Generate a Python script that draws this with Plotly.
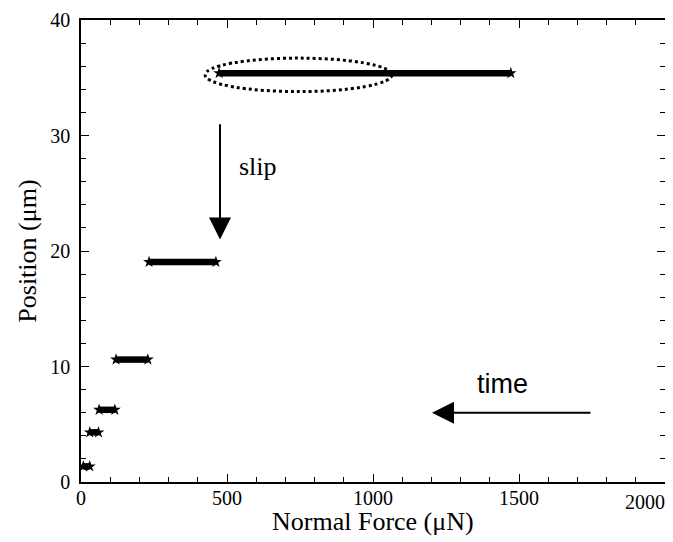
import plotly.graph_objects as go

# Plateaus: start force, end force (uN), position (um)
plateau_start = [8, 30, 62, 120, 233, 473]
plateau_end = [30, 60, 116, 229, 462, 1472]
plateau_pos = [1.35, 4.3, 6.25, 10.6, 19.05, 35.4]

x_tick_vals = [0, 500, 1000, 1500, 2000]
y_tick_vals = [0, 10, 20, 30, 40]

x_title = "Normal Force (\u03bcN)"
y_title = "Position (\u03bcm)"

SERIF = "Liberation Serif, Times New Roman, serif"
SANS = "Liberation Sans, Arial, sans-serif"

fig = go.Figure()
for s, e, p in zip(plateau_start, plateau_end, plateau_pos):
    fig.add_trace(go.Scatter(
        x=[s, e], y=[p, p], mode="lines+markers",
        line=dict(color="black", width=6.5),
        marker=dict(symbol="star", size=9, color="black"),
        showlegend=False, hoverinfo="skip"))

axis_common = dict(
    showgrid=False, zeroline=False, showline=True, linecolor="black", linewidth=1.5,
    mirror="allticks", ticks="inside", ticklen=8, tickwidth=1, tickcolor="black",
    tickfont=dict(family=SERIF, size=20, color="black"), automargin=False,
)

fig.update_xaxes(
    range=[0, 2000], tickvals=x_tick_vals[:-1], ticktext=[str(v) for v in x_tick_vals[:-1]],
    minor=dict(dtick=100, ticks="inside", ticklen=5, tickwidth=1, tickcolor="black"),
    ticklabelstandoff=-3,
    **axis_common)
fig.update_yaxes(
    range=[0, 40], tickvals=y_tick_vals, ticktext=[str(v) for v in y_tick_vals],
    minor=dict(dtick=2, ticks="inside", ticklen=5, tickwidth=1, tickcolor="black"),
    ticklabelstandoff=5,
    **axis_common)

# axis titles
fig.add_annotation(x=0.5, y=-0.086, xref="paper", yref="paper", text=x_title, showarrow=False,
                   xanchor="center", yanchor="middle", font=dict(family=SERIF, size=26, color="black"))
fig.add_annotation(x=-0.093, y=0.5, xref="paper", yref="paper", text=y_title, showarrow=False,
                   textangle=-90, xanchor="center", yanchor="middle",
                   font=dict(family=SERIF, size=26, color="black"))

# last x tick label, kept inside the page
fig.add_annotation(x=x_tick_vals[-1], y=0, xref="x", yref="y", text=str(x_tick_vals[-1]),
                   showarrow=False, xanchor="right", yanchor="top", xshift=2, yshift=-7,
                   font=dict(family=SERIF, size=20, color="black"))

# slip arrow
fig.add_annotation(x=476, y=21.0, ax=476, ay=31.1, xref="x", yref="y", axref="x", ayref="y",
                   text="", showarrow=True, arrowhead=2, arrowsize=2.2, arrowwidth=2, arrowcolor="black")
fig.add_annotation(x=606, y=27.3, xref="x", yref="y", text="slip", showarrow=False,
                   font=dict(family=SERIF, size=26, color="black"))

# time arrow
fig.add_annotation(x=1202, y=6.0, ax=1750, ay=6.0, xref="x", yref="y", axref="x", ayref="y",
                   text="", showarrow=True, arrowhead=2, arrowsize=2.2, arrowwidth=2, arrowcolor="black")
fig.add_annotation(x=1442, y=8.5, xref="x", yref="y", text="time", showarrow=False,
                   font=dict(family=SANS, size=27, color="black"))

# dotted ellipse around the top plateau
fig.add_shape(type="circle", xref="x", yref="y", x0=425, x1=1065, y0=33.8, y1=36.7,
              line=dict(color="black", width=3, dash="dot"))

# page has an 8px body margin, so the figure is sized to fit the window
fig.update_layout(
    width=665, height=534,
    margin=dict(l=73, r=8, t=12, b=60),
    paper_bgcolor="white", plot_bgcolor="white",
)

fig.write_html("out.html")
